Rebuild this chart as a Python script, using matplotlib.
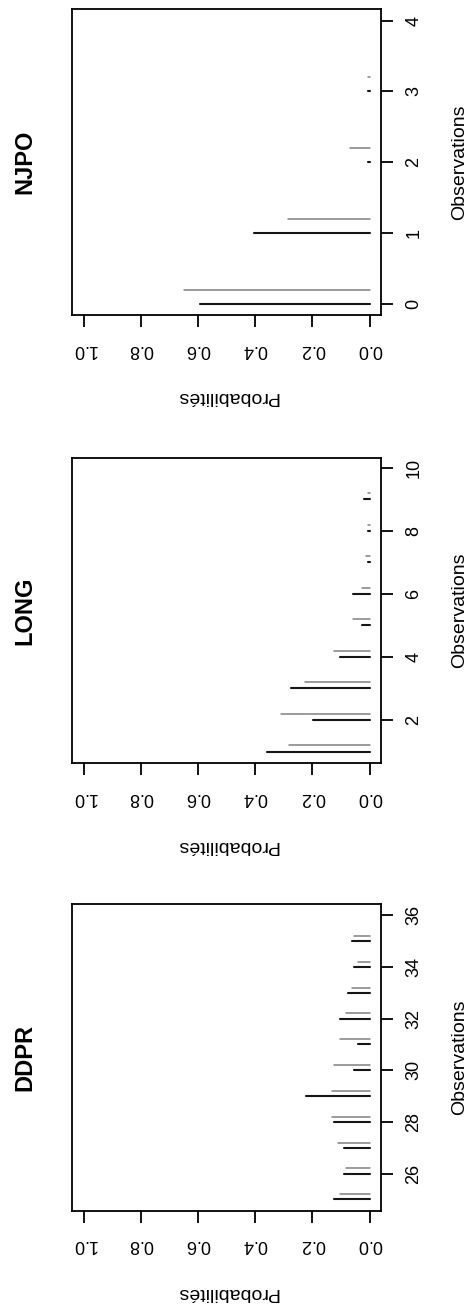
import matplotlib
matplotlib.use("Agg")
import matplotlib.pyplot as plt

plt.rcParams['font.family'] = ['Liberation Sans', 'DejaVu Sans']

ddpr_obs = [25, 26, 27, 28, 29, 30, 31, 32, 33, 34, 35]
ddpr_black = [0.125, 0.090, 0.090, 0.125, 0.224, 0.055, 0.041, 0.104, 0.076, 0.055, 0.062]
ddpr_gray = [0.104, 0.082, 0.111, 0.132, 0.132, 0.125, 0.104, 0.082, 0.061, 0.041, 0.055]

long_obs = [1, 2, 3, 4, 5, 6, 7, 8, 9]
long_black = [0.358, 0.197, 0.274, 0.105, 0.027, 0.057, 0.004, 0.004, 0.020]
long_gray = [0.281, 0.309, 0.225, 0.126, 0.057, 0.027, 0.012, 0.004, 0.004]

njpo_obs = [0, 1, 2, 3]
njpo_black = [0.594, 0.406, 0.004, 0.006]
njpo_gray = [0.649, 0.287, 0.067, 0.005]

prob_ticks = [0.0, 0.2, 0.4, 0.6, 0.8, 1.0]

W, H = 471, 1305
fig = plt.figure(figsize=(W / 100, H / 100), dpi=100)


def panel(top, bottom, title, obs, black, gray, obs_lim, obs_ticks):
    left, right = 72.3, 381
    ax = fig.add_axes([left / W, (H - bottom) / H, (right - left) / W, (bottom - top) / H])
    # barres horizontales (figure tournée de 90°)
    ax.hlines([o + 0.2 for o in obs], 0, gray, color='#808080', lw=1.1, capstyle='round')
    ax.hlines(obs, 0, black, color='#151515', lw=1.5, capstyle='round')
    ax.set_xlim(1.04, -0.04)
    ax.set_ylim(*obs_lim)
    ax.set_xticks(prob_ticks)
    ax.set_xticklabels(["%.1f" % t for t in prob_ticks], rotation=180)
    ax.set_yticks(obs_ticks)
    ax.set_yticklabels([str(t) for t in obs_ticks], rotation=90, va='center')
    ax.yaxis.tick_right()
    ax.tick_params(axis='x', length=8.5, width=1.3, pad=10, labelsize=13)
    ax.tick_params(axis='y', length=8.5, width=1.3, pad=9, labelsize=13)
    for s in ax.spines.values():
        s.set_linewidth(1.3)
    h = bottom - top
    ax.text((460 - left) / (right - left), 0.5, "Observations", rotation=90,
            ha='center', va='center', fontsize=14, transform=ax.transAxes)
    ax.text(0.5, -82 / h, "Probabilités", rotation=180,
            ha='center', va='center', fontsize=14, transform=ax.transAxes)
    ax.text((25 - left) / (right - left), 0.5, title, rotation=90, fontweight='bold',
            ha='center', va='center', fontsize=17, transform=ax.transAxes)
    return ax


panel(9.3, 315, "NJPO", njpo_obs, njpo_black, njpo_gray, (-0.16, 4.16), [0, 1, 2, 3, 4])
panel(457.7, 763.3, "LONG", long_obs, long_black, long_gray, (0.627, 10.32), [2, 4, 6, 8, 10])
panel(904, 1210.7, "DDPR", ddpr_obs, ddpr_black, ddpr_gray, (24.56, 36.44), [26, 28, 30, 32, 34, 36])

fig.savefig("out.png", dpi=100)
